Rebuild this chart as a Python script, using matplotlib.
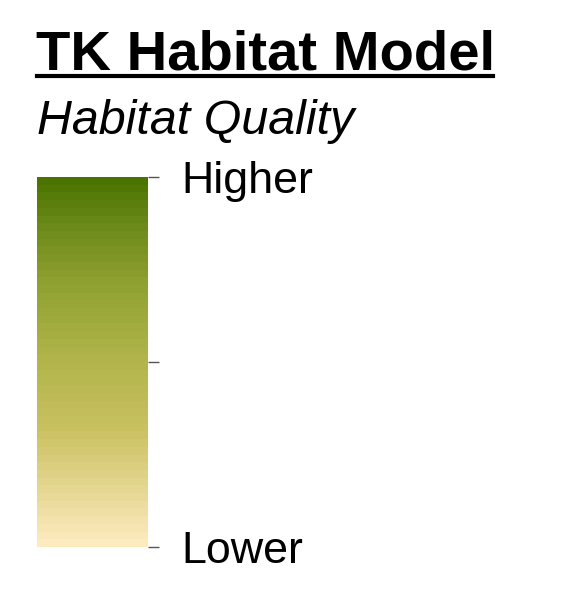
import numpy as np
import matplotlib
matplotlib.use('Agg')
import matplotlib.pyplot as plt
from matplotlib.colors import LinearSegmentedColormap, Normalize
from matplotlib.colorbar import ColorbarBase

plt.rcParams['font.family'] = ['Liberation Sans', 'DejaVu Sans']

# legend content
title = 'TK Habitat Model'
subtitle = 'Habitat Quality'
stop_pos = [0.0, 0.16, 0.32, 0.51, 0.72, 0.86, 1.0]
stop_colors = ['#fdebc0', '#e3d58e', '#c9c060', '#b0b44a', '#8ea030', '#6f8c1c', '#4a7300']
tick_values = [0.0, 0.5, 1.0]
tick_labels = ['Lower', '', 'Higher']

W, H = 567, 599
fig = plt.figure(figsize=(W / 100, H / 100), dpi=100)

fig.text(36 / W, 1 - 69 / H, title, fontsize=40.5, fontweight='bold', ha='left', va='baseline')
fig.add_artist(plt.Line2D([37 / W, 493 / W], [1 - 76 / H, 1 - 76 / H], color='black', lw=3))
fig.text(37 / W, 1 - 134 / H, subtitle, fontsize=34.8, fontstyle='italic', ha='left', va='baseline')

cmap = LinearSegmentedColormap.from_list('hab', list(zip(stop_pos, stop_colors)), N=48)
cax = fig.add_axes([37 / W, 1 - 547 / H, 111 / W, 370 / H])
cb = ColorbarBase(cax, cmap=cmap, norm=Normalize(0, 1), orientation='vertical')
cb.outline.set_visible(False)
cb.set_ticks(tick_values)
cb.set_ticklabels(tick_labels)
cax.tick_params(axis='y', length=8, width=1, color='#555555', labelsize=32.3, pad=16)

fig.savefig('out.png', dpi=100)
